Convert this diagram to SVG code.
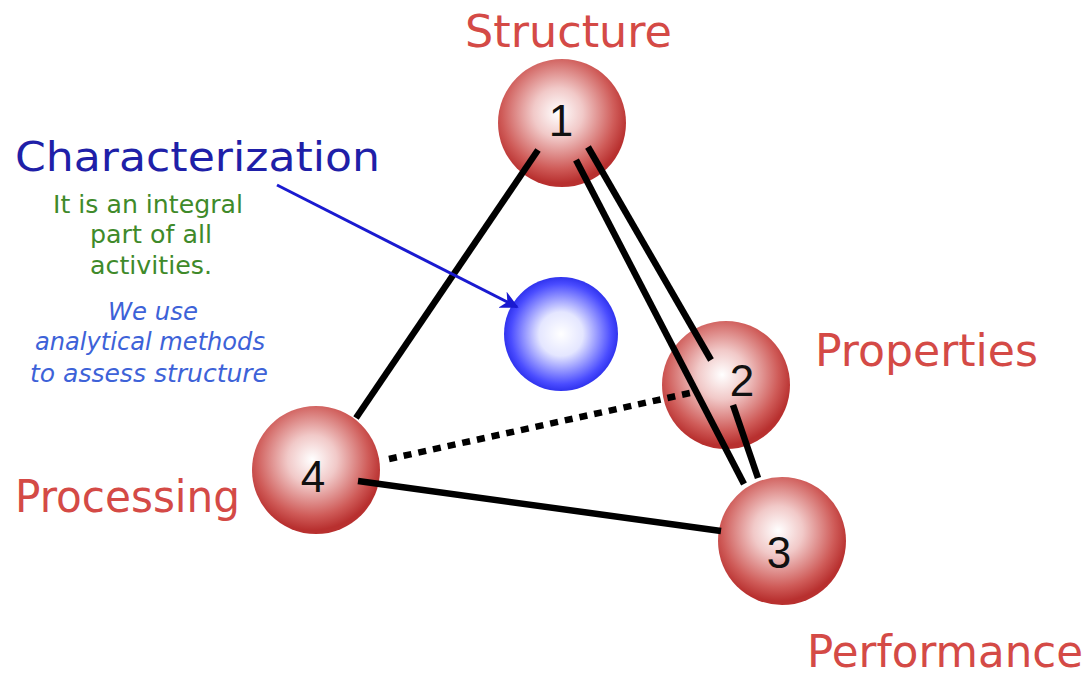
<svg xmlns="http://www.w3.org/2000/svg" width="1090" height="677" viewBox="0 0 1090 677">
<defs>
<radialGradient id="red" cx="0.47" cy="0.42" r="0.55">
<stop offset="0" stop-color="#ffffff"/>
<stop offset="0.35" stop-color="#f1c9c8"/>
<stop offset="0.8" stop-color="#cf5b58"/>
<stop offset="1" stop-color="#b8302f"/>
</radialGradient>
<radialGradient id="blue" cx="0.5" cy="0.5" r="0.55">
<stop offset="0" stop-color="#ffffff"/>
<stop offset="0.35" stop-color="#e4e6ff"/>
<stop offset="0.8" stop-color="#4a4cff"/>
<stop offset="1" stop-color="#1a1ee0"/>
</radialGradient>
<marker id="arr" viewBox="0 0 10 10" refX="9" refY="5" markerWidth="6" markerHeight="6" orient="auto" markerUnits="strokeWidth">
<path d="M0,0 L10,5 L0,10 L3,5 Z" fill="#1a1ad0"/>
</marker>
<style>
.lbl{font-family:"DejaVu Sans","Liberation Sans",sans-serif;fill:#d44a46;font-size:44px}
.num{font-family:"Liberation Sans",Arial,sans-serif;fill:#111;font-size:44px;text-anchor:middle}
.ln{stroke:#000;stroke-width:6.5;fill:none;stroke-linecap:butt}
.green{font-family:"DejaVu Sans","Liberation Sans",sans-serif;fill:#3f8a2a;font-size:24px}
.bl{font-family:"DejaVu Sans","Liberation Sans",sans-serif;fill:#3d62d8;font-size:25px;font-style:italic}
</style>
</defs>
<rect width="1090" height="677" fill="#ffffff"/>
<g id="blue-ball"><circle cx="561" cy="334" r="57" fill="url(#blue)"/></g>
<g id="node1"><circle cx="562" cy="123" r="64" fill="url(#red)"/></g>
<g id="node2"><circle cx="726" cy="385" r="64" fill="url(#red)"/></g>
<g id="node3"><circle cx="782" cy="541" r="64" fill="url(#red)"/></g>
<g id="node4"><circle cx="316" cy="470" r="64" fill="url(#red)"/></g>
<g id="connectors">
<line class="ln" x1="538" y1="150" x2="356" y2="418"/>
<line class="ln" x1="576" y1="160" x2="744" y2="484"/>
<line class="ln" x1="588" y1="147" x2="711" y2="360"/>
<line class="ln" x1="733" y1="405" x2="758" y2="478"/>
<line class="ln" x1="358" y1="481" x2="721" y2="531"/>
<line class="ln" x1="389" y1="459" x2="690" y2="393" stroke-dasharray="8,7"/>
<line x1="277" y1="185" x2="517" y2="307" stroke="#1a1ad0" stroke-width="3" marker-end="url(#arr)"/>
</g>
<g id="numbers">
<text class="num" x="561" y="136">1</text>
<text class="num" x="742" y="396">2</text>
<text class="num" x="779" y="568">3</text>
<text class="num" x="313" y="492">4</text>
</g>
<g id="labels">
<text class="lbl" x="465" y="47" textLength="207" lengthAdjust="spacingAndGlyphs">Structure</text>
<text class="lbl" x="815" y="366" textLength="223" lengthAdjust="spacingAndGlyphs">Properties</text>
<text class="lbl" x="15" y="512" textLength="225" lengthAdjust="spacingAndGlyphs">Processing</text>
<text class="lbl" x="807" y="667" textLength="276" lengthAdjust="spacingAndGlyphs">Performance</text>
<text x="15" y="171" font-family="DejaVu Sans, Liberation Sans, sans-serif" font-size="40" fill="#1f1fa8" textLength="365" lengthAdjust="spacingAndGlyphs">Characterization</text>
<text class="green" x="53" y="213" textLength="190" lengthAdjust="spacingAndGlyphs">It is an integral</text>
<text class="green" x="90" y="243" textLength="122" lengthAdjust="spacingAndGlyphs">part of all</text>
<text class="green" x="90" y="274" textLength="122" lengthAdjust="spacingAndGlyphs">activities.</text>
<text class="bl" x="108" y="320" textLength="90" lengthAdjust="spacingAndGlyphs">We use</text>
<text class="bl" x="35" y="350" textLength="230" lengthAdjust="spacingAndGlyphs">analytical methods</text>
<text class="bl" x="30" y="382" textLength="238" lengthAdjust="spacingAndGlyphs">to assess structure</text>
</g>
</svg>
